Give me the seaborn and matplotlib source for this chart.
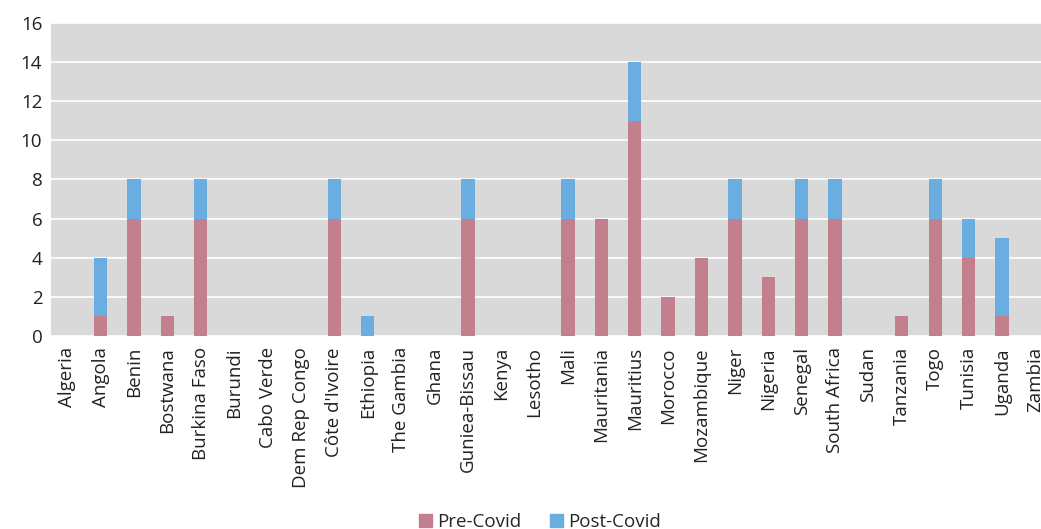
import matplotlib
matplotlib.use("Agg")
import matplotlib.pyplot as plt
import seaborn as sns
import pandas as pd
from matplotlib.patches import Patch

countries = ["Algeria", "Angola", "Benin", "Bostwana", "Burkina Faso", "Burundi",
             "Cabo Verde", "Dem Rep Congo", "Côte d'Ivoire", "Ethiopia", "The Gambia",
             "Ghana", "Guniea-Bissau", "Kenya", "Lesotho", "Mali", "Mauritania",
             "Mauritius", "Morocco", "Mozambique", "Niger", "Nigeria", "Senegal",
             "South Africa", "Sudan", "Tanzania", "Togo", "Tunisia", "Uganda", "Zambia"]
pre_covid = [0, 1, 6, 1, 6, 0, 0, 0, 6, 0, 0, 0, 6, 0, 0, 6, 6, 11, 2, 4, 6, 3, 6, 6,
             0, 1, 6, 4, 1, 0]
post_covid = [0, 3, 2, 0, 2, 0, 0, 0, 2, 1, 0, 0, 2, 0, 0, 2, 0, 3, 0, 0, 2, 0, 2, 2,
              0, 0, 2, 2, 4, 0]

PRE_COLOR = "#C47F8E"
POST_COLOR = "#6AADE0"

df = pd.DataFrame({"country": countries, "pre": pre_covid, "post": post_covid})
df["total"] = df["pre"] + df["post"]

sns.set_theme(style="white")
plt.rcParams["font.family"] = ["Open Sans", "DejaVu Sans"]

fig = plt.figure(figsize=(10.41, 5.29), dpi=100)
ax = fig.add_axes([0.0486, 0.365, 0.962, 0.5915])
ax.set_facecolor("#D9D9D9")

# stacked bars: full height in blue, pre-covid portion drawn over it
sns.barplot(data=df, x="country", y="total", color=POST_COLOR, width=0.4,
            saturation=1, linewidth=0, ax=ax, zorder=3)
sns.barplot(data=df, x="country", y="pre", color=PRE_COLOR, width=0.4,
            saturation=1, linewidth=0, ax=ax, zorder=4)

ax.set_ylim(0, 16)
ax.set_yticks(range(0, 17, 2))
ax.set_xlim(-0.5, len(countries) - 0.5)
ax.yaxis.grid(True, color="white", linewidth=1.2, zorder=0)
ax.set_axisbelow(True)
for s in ax.spines.values():
    s.set_visible(False)
ax.set_xlabel("")
ax.set_ylabel("")
ax.tick_params(axis="both", length=0, labelsize=13.5, colors="#222222")
ax.tick_params(axis="x", pad=8)
ax.tick_params(axis="y", pad=6)
plt.setp(ax.get_xticklabels(), rotation=90)

handles = [Patch(color=PRE_COLOR, label="Pre-Covid"),
           Patch(color=POST_COLOR, label="Post-Covid")]
fig.legend(handles=handles, loc="center", bbox_to_anchor=(540 / 1041, 1 - 522 / 529),
           ncol=2, frameon=False, fontsize=13.5, handlelength=0.7, handleheight=0.7,
           handletextpad=0.3, columnspacing=1.5)

fig.savefig("out.png", dpi=100)
